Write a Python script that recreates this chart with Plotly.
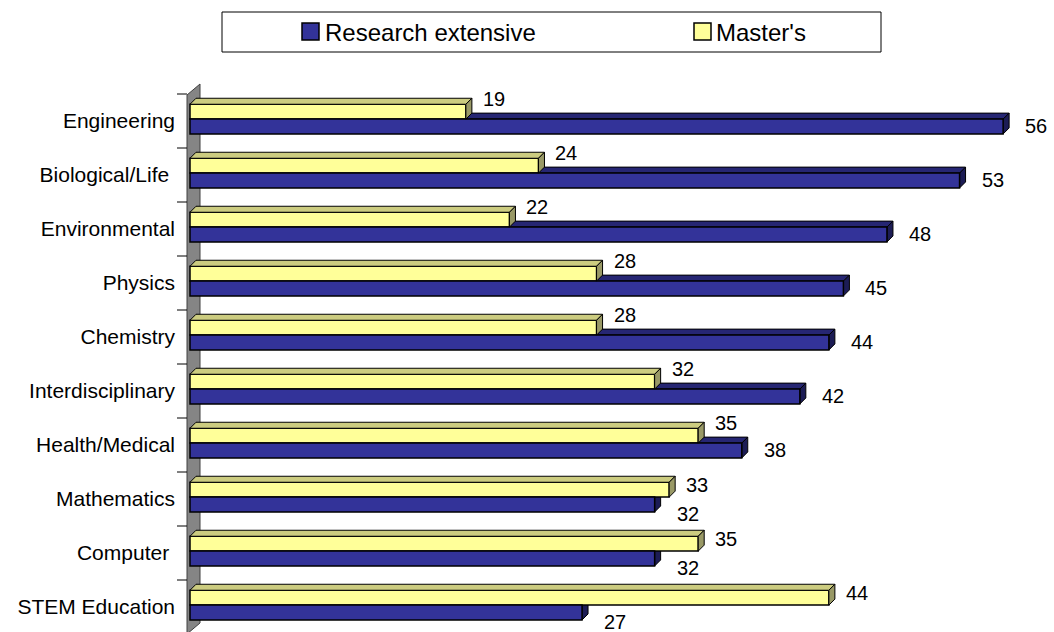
import plotly.graph_objects as go

# Survey results by discipline (percent)
categories = [
    "Engineering", "Biological/Life ", "Environmental", "Physics", "Chemistry",
    "Interdisciplinary", "Health/Medical", "Mathematics", "Computer ", "STEM Education",
]
research_extensive = [56, 53, 48, 45, 44, 42, 38, 32, 32, 27]
masters = [19, 24, 22, 28, 28, 32, 35, 33, 35, 44]

FONT = "Liberation Sans, Arial, sans-serif"
W, H = 1054, 632

# Pixel geometry of the plotting region
ML, MR, MT, MB = 176, 0, 70, 0
X0_PX, X_PER_UNIT = 190.0, 14.52   # pixel of value 0 and pixels per unit
Y0_PX, Y_PER_CAT = 121.0, 54.0     # pixel centre of first category, band height

x_range = [(ML - X0_PX) / X_PER_UNIT, (W - MR - X0_PX) / X_PER_UNIT]
y_range = [(H - MB - Y0_PX) / Y_PER_CAT, (MT - Y0_PX) / Y_PER_CAT]  # reversed


def px_x(px):
    return (px - X0_PX) / X_PER_UNIT


def px_y(py):
    return (py - Y0_PX) / Y_PER_CAT


def paper_x(px):
    return (px - ML) / (W - ML - MR)


def paper_y(py):
    return (H - MB - py) / (H - MT - MB)


# 3D extrusion of each bar (pixels -> data units)
DX = 6 / X_PER_UNIT
DY = -6 / Y_PER_CAT

BAR_W = 0.275
M_OFF = -0.31
R_OFF = M_OFF + BAR_W

BLUE, BLUE_TOP, BLUE_SIDE = "#333399", "#262673", "#1c1c55"
YEL, YEL_TOP, YEL_SIDE = "#FFFF99", "#CCCC80", "#999966"

idx = list(range(len(categories)))

fig = go.Figure()
fig.add_trace(go.Bar(
    name="Master's", orientation="h", x=masters, y=idx,
    width=BAR_W, offset=M_OFF,
    marker=dict(color=YEL, line=dict(color="black", width=1.5)),
    hoverinfo="x+y",
))
fig.add_trace(go.Bar(
    name="Research extensive", orientation="h", x=research_extensive, y=idx,
    width=BAR_W, offset=R_OFF,
    marker=dict(color=BLUE, line=dict(color="black", width=1.5)),
    hoverinfo="x+y",
))

shapes = []

# Back wall on the value axis
wall_front = px_x(187)
wall_back = wall_front + 13 / X_PER_UNIT
wall_top = px_y(95)
wall_bot = px_y(634)
wall_dy = -11 / Y_PER_CAT
shapes.append(dict(
    type="path", xref="x", yref="y", layer="below",
    path=(f"M{wall_front},{wall_top} L{wall_back},{wall_top + wall_dy} "
          f"L{wall_back},{wall_bot + wall_dy} L{wall_front},{wall_bot} Z"),
    fillcolor="#858585", line=dict(color="#404040", width=1),
))

# Category separator ticks
for k in range(len(categories) + 1):
    yk = k - 0.5
    shapes.append(dict(
        type="line", xref="x", yref="y", layer="below",
        x0=px_x(177), x1=wall_front, y0=yk, y1=yk,
        line=dict(color="black", width=1),
    ))


def faces(v, y_top, y_bot, top_col, side_col, layer):
    top = (f"M0,{y_top} L{v},{y_top} L{v + DX},{y_top + DY} "
           f"L{DX},{y_top + DY} Z")
    side = (f"M{v},{y_top} L{v + DX},{y_top + DY} "
            f"L{v + DX},{y_bot + DY} L{v},{y_bot} Z")
    return [
        dict(type="path", xref="x", yref="y", layer=layer, path=top,
             fillcolor=top_col, line=dict(color="black", width=1)),
        dict(type="path", xref="x", yref="y", layer=layer, path=side,
             fillcolor=side_col, line=dict(color="black", width=1)),
    ]


for i in idx:
    shapes += faces(research_extensive[i], i + R_OFF, i + R_OFF + BAR_W,
                    BLUE_TOP, BLUE_SIDE, "below")
for i in idx:
    shapes += faces(masters[i], i + M_OFF, i + M_OFF + BAR_W,
                    YEL_TOP, YEL_SIDE, "above")

# Legend box
shapes.append(dict(
    type="rect", xref="paper", yref="paper",
    x0=paper_x(222), x1=paper_x(881), y0=paper_y(52), y1=paper_y(12),
    line=dict(color="black", width=1), fillcolor="white",
))
for x_l, col in [(302, BLUE), (694, YEL)]:
    shapes.append(dict(
        type="rect", xref="paper", yref="paper",
        x0=paper_x(x_l), x1=paper_x(x_l + 17), y0=paper_y(40), y1=paper_y(23),
        line=dict(color="black", width=1.5), fillcolor=col,
    ))

annotations = []
for x_l, txt in [(323, "Research extensive"), (714, "Master's")]:
    annotations.append(dict(
        xref="paper", yref="paper", x=paper_x(x_l), y=paper_y(32),
        text=txt, showarrow=False, xanchor="left", yanchor="middle",
        font=dict(family=FONT, size=24, color="black"),
    ))

# Value labels at the bar ends
for i in idx:
    r, m = research_extensive[i], masters[i]
    blue_leads = r > m
    annotations.append(dict(
        xref="x", yref="y", x=m, y=i + M_OFF + BAR_W / 2,
        text=str(m), showarrow=False, xanchor="left", yanchor="middle",
        xshift=15, yshift=13 if blue_leads else 5,
        font=dict(family=FONT, size=20, color="black"),
    ))
    annotations.append(dict(
        xref="x", yref="y", x=r, y=i + R_OFF + BAR_W / 2,
        text=str(r), showarrow=False, xanchor="left", yanchor="middle",
        xshift=20, yshift=1 if blue_leads else -9,
        font=dict(family=FONT, size=20, color="black"),
    ))

fig.update_layout(
    width=W, height=H,
    margin=dict(l=ML, r=MR, t=MT, b=MB, pad=0),
    paper_bgcolor="white", plot_bgcolor="white",
    barmode="overlay", showlegend=False,
    shapes=shapes, annotations=annotations,
    font=dict(family=FONT, color="black"),
    xaxis=dict(range=x_range, visible=False, fixedrange=True),
    yaxis=dict(
        range=y_range, tickmode="array", tickvals=idx, ticktext=categories,
        showgrid=False, zeroline=False, showline=False, ticks="",
        tickfont=dict(family=FONT, size=21, color="black"),
        fixedrange=True,
    ),
)

fig.write_html("out.html")
